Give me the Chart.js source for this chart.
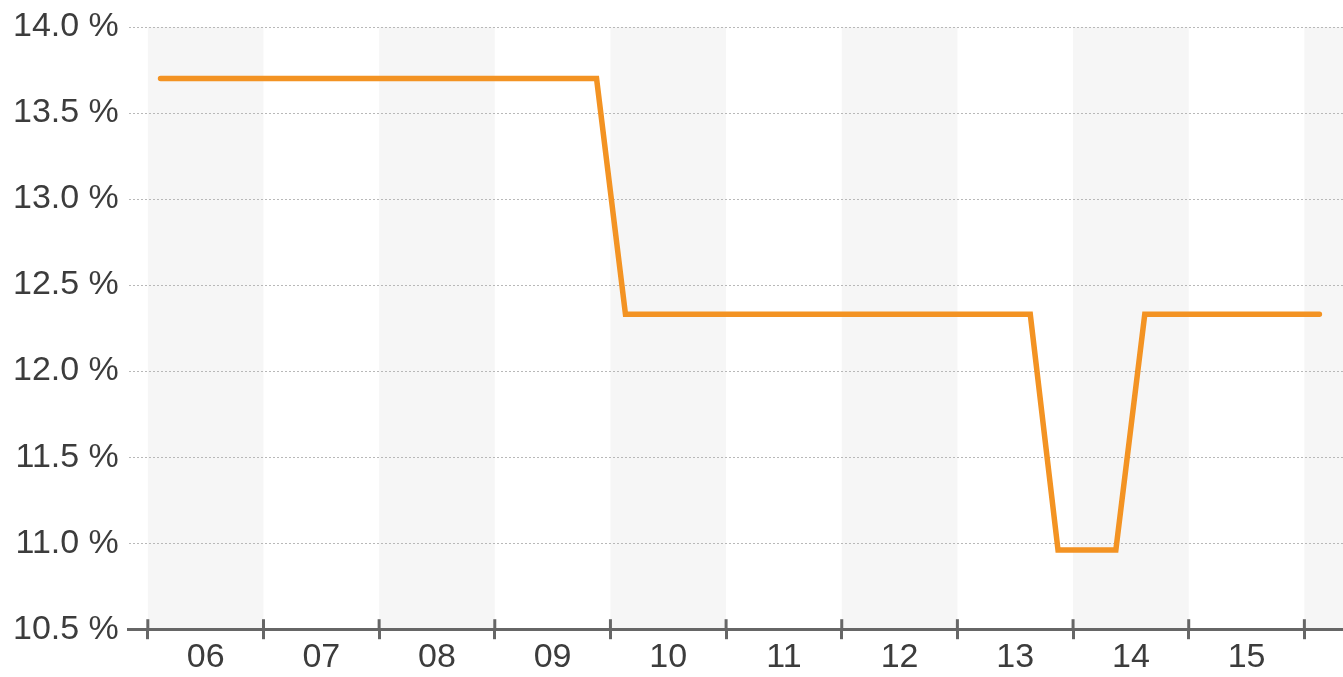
<!DOCTYPE html>
<html>
<head>
<meta charset="utf-8">
<script src="https://cdn.jsdelivr.net/npm/chart.js@4"></script>
<style>
    html, body { margin: 0; padding: 0; background: #fff; }
    #wrap { width: 1343px; height: 677px; }
</style>
</head>
<body>
<div id="wrap"><canvas id="rateChart"></canvas></div>
<script>
// Year labels (each occupies one band on the x axis, 6 = start of 2006)
const yearLabels = ['06', '07', '08', '09', '10', '11', '12', '13', '14', '15'];
const yearStarts = [6, 7, 8, 9, 10, 11, 12, 13, 14, 15, 16];

// Rate series, x in fractional years
const rateX = [6.11, 9.88, 10.13, 13.63, 13.87, 14.37, 14.62, 16.13];
const rateY = [13.70, 13.70, 12.33, 12.33, 10.96, 10.96, 12.33, 12.33];

// Y ticks
const yTicks = [10.5, 11.0, 11.5, 12.0, 12.5, 13.0, 13.5, 14.0];

const axisColor = '#666666';
const textColor = '#3c3c3c';

// Shaded bands for every other year + upper half of x tick marks
const bandsPlugin = {
    id: 'bands',
    beforeDraw(chart) {
        const { ctx, chartArea, scales } = chart;
        const x = scales.x;
        ctx.save();
        ctx.fillStyle = '#f6f6f6';
        for (let i = 0; i < yearStarts.length; i += 2) {
            const x0 = x.getPixelForValue(yearStarts[i]);
            const x1 = x.getPixelForValue(yearStarts[i] + 1);
            ctx.fillRect(x0, chartArea.top, x1 - x0, chartArea.bottom - chartArea.top);
        }
        ctx.restore();
    },
    afterDraw(chart) {
        const { ctx, chartArea, scales } = chart;
        const x = scales.x;
        ctx.save();
        ctx.strokeStyle = axisColor;
        ctx.lineWidth = 3;
        yearStarts.forEach(v => {
            const px = x.getPixelForValue(v);
            ctx.beginPath();
            ctx.moveTo(px, chartArea.bottom - 10);
            ctx.lineTo(px, chartArea.bottom);
            ctx.stroke();
        });
        ctx.restore();
    }
};

let rateChart = null;

function initializeRateChart() {
    const ctx = document.getElementById('rateChart');
    if (!ctx) return;

    if (rateChart) {
        rateChart.destroy();
    }

    rateChart = new Chart(ctx, {
        type: 'line',
        data: {
            datasets: [{
                label: 'Rate',
                data: rateX.map((v, i) => ({ x: v, y: rateY[i] })),
                borderColor: '#f39323',
                borderWidth: 5.5,
                borderCapStyle: 'round',
                pointRadius: 0,
                tension: 0,
                fill: false
            }]
        },
        options: {
            responsive: true,
            maintainAspectRatio: false,
            animation: false,
            layout: {
                padding: { left: 3, top: 2, right: 0, bottom: 0 }
            },
            plugins: {
                legend: { display: false },
                tooltip: { enabled: false }
            },
            scales: {
                x: {
                    type: 'linear',
                    min: 5.836,
                    max: 16.334,
                    afterBuildTicks: function(scale) {
                        const ticks = [];
                        yearStarts.forEach(v => ticks.push({ value: v }));
                        yearLabels.forEach((l, i) => ticks.push({ value: yearStarts[i] + 0.5 }));
                        ticks.sort((a, b) => a.value - b.value);
                        scale.ticks = ticks;
                    },
                    border: {
                        display: true,
                        color: axisColor,
                        width: 3
                    },
                    grid: {
                        drawOnChartArea: false,
                        drawTicks: true,
                        tickLength: 10,
                        tickWidth: 3,
                        tickColor: function(context) {
                            const v = context.tick ? context.tick.value : 0;
                            return Number.isInteger(v) ? axisColor : 'rgba(0,0,0,0)';
                        }
                    },
                    ticks: {
                        autoSkip: false,
                        maxRotation: 0,
                        padding: 7,
                        color: textColor,
                        font: { size: 34, family: 'Liberation Sans, Arial, sans-serif', lineHeight: 0.7 },
                        callback: function(value) {
                            if (Number.isInteger(value)) return '';
                            const idx = Math.floor(value) - yearStarts[0];
                            return yearLabels[idx] || '';
                        }
                    }
                },
                y: {
                    min: 10.5,
                    max: 14.0,
                    afterBuildTicks: function(scale) {
                        scale.ticks = yTicks.map(v => ({ value: v }));
                    },
                    border: { display: false, dash: [2, 2] },
                    grid: {
                        color: '#b8b8b8',
                        lineWidth: 1,
                        drawTicks: false
                    },
                    ticks: {
                        padding: 10,
                        color: textColor,
                        font: { size: 34, family: 'Liberation Sans, Arial, sans-serif', lineHeight: 1 },
                        callback: function(value) {
                            return value.toFixed(1) + ' %';
                        }
                    }
                }
            }
        },
        plugins: [bandsPlugin]
    });
}

initializeRateChart();
</script>
</body>
</html>
